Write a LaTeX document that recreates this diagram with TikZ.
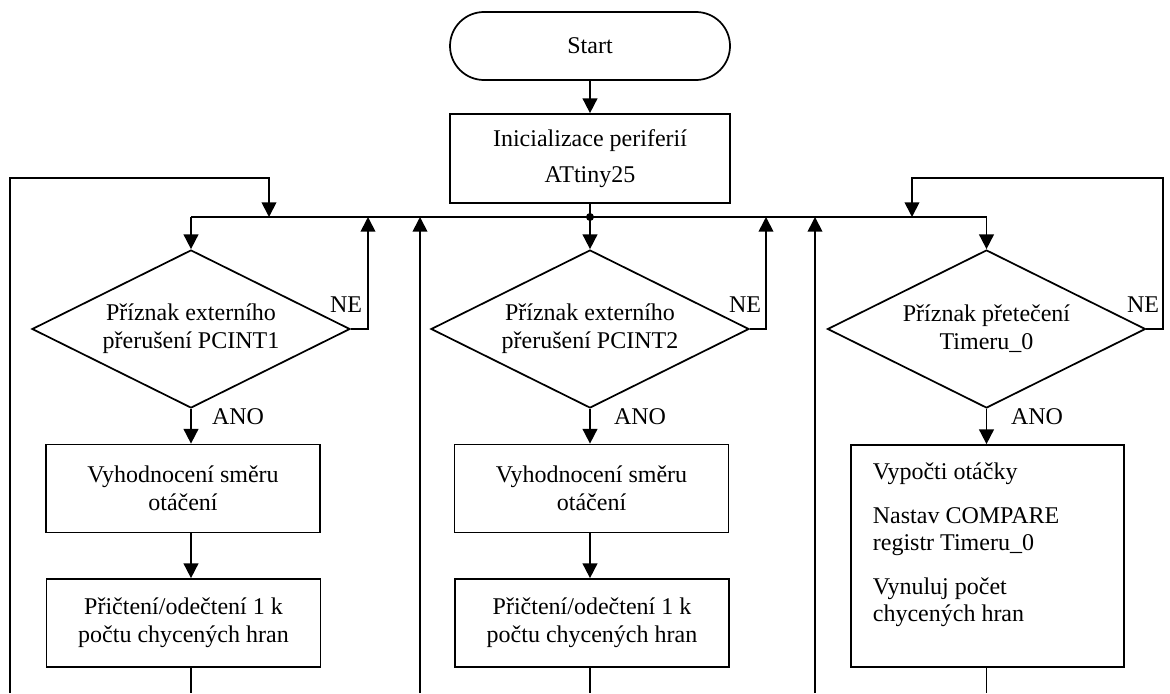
\documentclass[tikz,border=0pt]{standalone}
\usepackage{fontspec}
\setmainfont{Liberation Serif}
\usetikzlibrary{shapes.geometric,shapes.misc,arrows.meta}
\begin{document}
\begin{tikzpicture}[x=0.75pt,y=-0.75pt, line width=1.3pt,
  every node/.style={font=\fontsize{18}{21}\selectfont},
  proc/.style={draw, rectangle, minimum width=205.5pt, minimum height=66pt, align=center, inner sep=0pt},
  dec/.style={draw, diamond, aspect=2, minimum width=238.5pt, minimum height=118.5pt, align=center, inner sep=0pt},
  term/.style={draw, rounded rectangle, minimum width=210pt, minimum height=51pt, inner sep=0pt},
  arr/.style={-{Triangle[width=11pt,length=11pt]}},
  lbl/.style={inner sep=0pt}]
\useasboundingbox (0,0) rectangle (1170,693);
\node[term] (start) at (590,46) {Start};
\node[proc, minimum width=210pt, minimum height=66.75pt] (init) at (590,158.5) {Inicializace periferií\\[6pt]ATtiny25};
\coordinate (jn) at (590,217);
\node[dec] (d1) at (191,329) {Příznak externího\\přerušení PCINT1};
\node[dec] (d2) at (590,329) {Příznak externího\\přerušení PCINT2};
\node[dec] (d3) at (986.5,329) {Příznak přetečení\\Timeru\_0};
\node[proc] (b1a) at (183,488.5) {Vyhodnocení směru\\otáčení};
\node[proc] (b1b) at (183.5,623) {Přičtení/odečtení 1 k\\počtu chycených hran};
\node[proc] (b2a) at (591.5,488.5) {Vyhodnocení směru\\otáčení};
\node[proc] (b2b) at (592,623) {Přičtení/odečtení 1 k\\počtu chycených hran};
\node[draw, minimum width=204.75pt, minimum height=166.5pt, inner sep=0pt] (b3) at (987.5,556) {};
\node[anchor=north west, align=left, inner sep=0pt, font=\fontsize{18}{20.25}\selectfont] (t3) at (872,462) {Vypočti otáčky\\[12.75pt]Nastav COMPARE\\registr Timeru\_0\\[12.75pt]Vynuluj počet\\chycených hran};
\node[lbl] (ne1) at (346,305) {NE};
\node[lbl] (ne2) at (745,305) {NE};
\node[lbl] (ne3) at (1143,305) {NE};
\node[lbl] (ano1) at (238,417) {ANO};
\node[lbl] (ano2) at (640,417) {ANO};
\node[lbl] (ano3) at (1037,417) {ANO};
\coordinate (n1) at (368,329);
\coordinate (n2) at (766,329);
\coordinate (n3) at (1163,329);
\coordinate (u1) at (420,693);
\coordinate (u2) at (815,693);
\coordinate (e1) at (191,693);
\coordinate (e2) at (590,693);
\coordinate (e3) at (986.5,693);
\coordinate (l0) at (10,693);
\coordinate (lt) at (269,178);
\coordinate (rt) at (912,178);
\draw[arr] (start) -- (init);
\draw (init.south) -- (jn);
\draw[arr] (jn) -- (d2.north);
\fill (jn) circle (3pt);
\draw (d1.north |- jn) -- (d3.north |- jn);
\draw[arr] (d1.north |- jn) -- (d1.north);
\draw[arr] (d3.north |- jn) -- (d3.north);
\draw[arr] (l0) |- (lt) -- (lt |- jn);
\draw[arr] (d1.east) -- (n1) -- (n1 |- jn);
\draw[arr] (u1) -- (u1 |- jn);
\draw[arr] (d2.east) -- (n2) -- (n2 |- jn);
\draw[arr] (u2) -- (u2 |- jn);
\draw[arr] (d3.east) -- (n3) |- (rt) -- (rt |- jn);
\draw[arr] (d1.south) -- (d1.south |- b1a.north);
\draw[arr] (b1a.south -| d1.south) -- (b1b.north -| d1.south);
\draw (b1b.south -| d1.south) -- (e1);
\draw[arr] (d2.south) -- (d2.south |- b2a.north);
\draw[arr] (b2a.south -| d2.south) -- (b2b.north -| d2.south);
\draw (b2b.south -| d2.south) -- (e2);
\draw[arr] (d3.south) -- (d3.south |- b3.north);
\draw (b3.south -| d3.south) -- (e3);
\end{tikzpicture}
\end{document}
